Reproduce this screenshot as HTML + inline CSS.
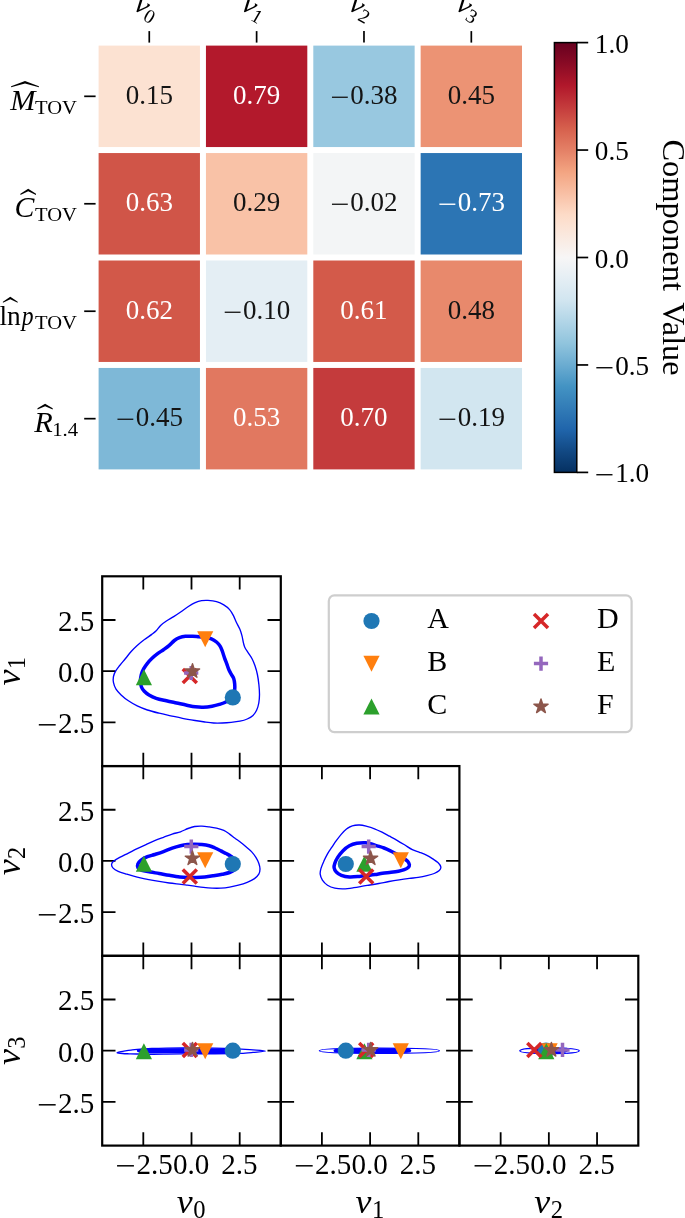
<!DOCTYPE html>
<html lang="en"><head><meta charset="utf-8"><title>Component heatmap and corner plot</title>
<style>html,body{margin:0;padding:0;background:#fff}svg{display:block}</style></head>
<body><svg width="685" height="1218" viewBox="0 0 685 1218">
<rect width="685" height="1218" fill="#fff"/>
<g style="will-change:transform">
<g id="heatmap">
<rect x="98.60" y="45.60" width="101.35" height="101.45" fill="#fce2d2"/>
<rect x="205.95" y="45.60" width="101.35" height="101.45" fill="#b3192c"/>
<rect x="313.30" y="45.60" width="101.35" height="101.45" fill="#98c8e0"/>
<rect x="420.65" y="45.60" width="101.35" height="101.45" fill="#ec9374"/>
<rect x="98.60" y="153.05" width="101.35" height="101.45" fill="#d05548"/>
<rect x="205.95" y="153.05" width="101.35" height="101.45" fill="#f9c2a7"/>
<rect x="313.30" y="153.05" width="101.35" height="101.45" fill="#f3f5f6"/>
<rect x="420.65" y="153.05" width="101.35" height="101.45" fill="#2c75b4"/>
<rect x="98.60" y="260.50" width="101.35" height="101.45" fill="#d25849"/>
<rect x="205.95" y="260.50" width="101.35" height="101.45" fill="#e4eef4"/>
<rect x="313.30" y="260.50" width="101.35" height="101.45" fill="#d35a4a"/>
<rect x="420.65" y="260.50" width="101.35" height="101.45" fill="#e8896c"/>
<rect x="98.60" y="367.95" width="101.35" height="101.45" fill="#7eb8d7"/>
<rect x="205.95" y="367.95" width="101.35" height="101.45" fill="#e17860"/>
<rect x="313.30" y="367.95" width="101.35" height="101.45" fill="#c43b3c"/>
<rect x="420.65" y="367.95" width="101.35" height="101.45" fill="#d2e6f0"/>
</g>
<g id="annot" font-family="Liberation Serif, serif">
<text x="125.65" y="103.62" font-size="27.00" fill="#141414" >0.15</text>
<text x="233.00" y="103.62" font-size="27.00" fill="#fff" >0.79</text>
<text transform="translate(330.35,105.65) scale(1.260,1)" font-size="27.00" fill="#141414" >−</text><text x="350.35" y="103.62" font-size="27.00" fill="#141414" >0.38</text>
<text x="447.70" y="103.62" font-size="27.00" fill="#141414" >0.45</text>
<text x="125.65" y="211.07" font-size="27.00" fill="#fff" >0.63</text>
<text x="233.00" y="211.07" font-size="27.00" fill="#141414" >0.29</text>
<text transform="translate(330.35,213.10) scale(1.260,1)" font-size="27.00" fill="#141414" >−</text><text x="350.35" y="211.07" font-size="27.00" fill="#141414" >0.02</text>
<text transform="translate(437.70,213.10) scale(1.260,1)" font-size="27.00" fill="#fff" >−</text><text x="457.70" y="211.07" font-size="27.00" fill="#fff" >0.73</text>
<text x="125.65" y="318.53" font-size="27.00" fill="#fff" >0.62</text>
<text transform="translate(223.00,320.55) scale(1.260,1)" font-size="27.00" fill="#141414" >−</text><text x="243.00" y="318.53" font-size="27.00" fill="#141414" >0.10</text>
<text x="340.35" y="318.53" font-size="27.00" fill="#fff" >0.61</text>
<text x="447.70" y="318.53" font-size="27.00" fill="#141414" >0.48</text>
<text transform="translate(115.65,428.00) scale(1.260,1)" font-size="27.00" fill="#141414" >−</text><text x="135.65" y="425.97" font-size="27.00" fill="#141414" >0.45</text>
<text x="233.00" y="425.97" font-size="27.00" fill="#fff" >0.53</text>
<text x="340.35" y="425.97" font-size="27.00" fill="#fff" >0.70</text>
<text transform="translate(437.70,428.00) scale(1.260,1)" font-size="27.00" fill="#141414" >−</text><text x="457.70" y="425.97" font-size="27.00" fill="#141414" >0.19</text>
</g>
<g id="hm-ticks" stroke="#000" stroke-width="1.7">
<line x1="149.27" y1="31.1" x2="149.27" y2="42.60"/>
<line x1="256.62" y1="31.1" x2="256.62" y2="42.60"/>
<line x1="363.98" y1="31.1" x2="363.98" y2="42.60"/>
<line x1="471.32" y1="31.1" x2="471.32" y2="42.60"/>
<line x1="84.2" y1="96.32" x2="95.60" y2="96.32"/>
<line x1="84.2" y1="203.77" x2="95.60" y2="203.77"/>
<line x1="84.2" y1="311.23" x2="95.60" y2="311.23"/>
<line x1="84.2" y1="418.67" x2="95.60" y2="418.67"/>
</g>
<g id="hm-xlabels" font-family="Liberation Serif, serif">
<g transform="translate(133.67,9.70) rotate(30)"><text x="-1.6" y="0" font-size="27.5" font-style="italic" textLength="13.6" lengthAdjust="spacingAndGlyphs">v</text><text x="12.2" y="4.2" font-size="19.5">0</text></g>
<g transform="translate(241.03,9.70) rotate(30)"><text x="-1.6" y="0" font-size="27.5" font-style="italic" textLength="13.6" lengthAdjust="spacingAndGlyphs">v</text><text x="12.2" y="4.2" font-size="19.5">1</text></g>
<g transform="translate(348.38,9.70) rotate(30)"><text x="-1.6" y="0" font-size="27.5" font-style="italic" textLength="13.6" lengthAdjust="spacingAndGlyphs">v</text><text x="12.2" y="4.2" font-size="19.5">2</text></g>
<g transform="translate(455.72,9.70) rotate(30)"><text x="-1.6" y="0" font-size="27.5" font-style="italic" textLength="13.6" lengthAdjust="spacingAndGlyphs">v</text><text x="12.2" y="4.2" font-size="19.5">3</text></g>
</g>
<g id="hm-ylabels" font-family="Liberation Serif, serif" fill="#000">
<text x="10.3" y="109.72" font-size="28.9" font-style="italic" textLength="25.2" lengthAdjust="spacingAndGlyphs">M</text>
<text x="35.0" y="113.62" font-size="19.8" textLength="41.9" lengthAdjust="spacingAndGlyphs">TOV</text>
<path d="M11.10,86.17 L25.00,81.07 L38.90,86.17 L38.90,87.32 L25.00,83.57 L11.10,87.32 Z" fill="#000"/>
<text x="14.5" y="217.17" font-size="28.9" font-style="italic" textLength="19.9" lengthAdjust="spacingAndGlyphs">C</text>
<text x="35.0" y="221.07" font-size="19.8" textLength="41.9" lengthAdjust="spacingAndGlyphs">TOV</text>
<path d="M20.40,193.77 L28.20,188.82 L36.00,193.77 L36.00,194.92 L28.20,191.32 L20.40,194.92 Z" fill="#000"/>
<text x="-0.5" y="324.62" font-size="27.5" textLength="21.3" lengthAdjust="spacingAndGlyphs">ln</text>
<text x="21.8" y="324.62" font-size="26.5" font-style="italic" textLength="11.8" lengthAdjust="spacingAndGlyphs">p</text>
<text x="35.0" y="328.53" font-size="19.8" textLength="41.9" lengthAdjust="spacingAndGlyphs">TOV</text>
<path d="M2.90,301.68 L10.30,296.68 L17.70,301.68 L17.70,302.83 L10.30,299.18 L2.90,302.83 Z" fill="#000"/>
<text x="34.2" y="432.07" font-size="28.9" font-style="italic" textLength="18.5" lengthAdjust="spacingAndGlyphs">R</text>
<text x="52.2" y="435.57" font-size="19.5" textLength="25.9" lengthAdjust="spacingAndGlyphs">1.4</text>
<path d="M37.50,408.32 L45.10,403.82 L52.70,408.32 L52.70,409.47 L45.10,406.32 L37.50,409.47 Z" fill="#000"/>
</g>
<defs><linearGradient id="cb" x1="0" y1="1" x2="0" y2="0">
<stop offset="0.000" stop-color="#053061"/>
<stop offset="0.050" stop-color="#124984"/>
<stop offset="0.100" stop-color="#2065ab"/>
<stop offset="0.150" stop-color="#327cb7"/>
<stop offset="0.200" stop-color="#4393c3"/>
<stop offset="0.250" stop-color="#6bacd1"/>
<stop offset="0.300" stop-color="#90c4dd"/>
<stop offset="0.350" stop-color="#b1d5e7"/>
<stop offset="0.400" stop-color="#d1e5f0"/>
<stop offset="0.450" stop-color="#e4eef4"/>
<stop offset="0.500" stop-color="#f7f6f6"/>
<stop offset="0.550" stop-color="#fae9df"/>
<stop offset="0.600" stop-color="#fddbc7"/>
<stop offset="0.650" stop-color="#f8bfa4"/>
<stop offset="0.700" stop-color="#f3a481"/>
<stop offset="0.750" stop-color="#e48066"/>
<stop offset="0.800" stop-color="#d6604d"/>
<stop offset="0.850" stop-color="#c43b3c"/>
<stop offset="0.900" stop-color="#b1182b"/>
<stop offset="0.950" stop-color="#8a0b25"/>
<stop offset="1.000" stop-color="#67001f"/>
</linearGradient></defs>
<rect x="554.40" y="42.60" width="22.40" height="429.80" fill="url(#cb)" stroke="#000" stroke-width="1.5"/>
<g stroke="#000" stroke-width="1.7">
<line x1="576.80" y1="42.60" x2="588.2" y2="42.60"/>
<line x1="576.80" y1="150.05" x2="588.2" y2="150.05"/>
<line x1="576.80" y1="257.50" x2="588.2" y2="257.50"/>
<line x1="576.80" y1="364.95" x2="588.2" y2="364.95"/>
<line x1="576.80" y1="472.40" x2="588.2" y2="472.40"/>
</g>
<g id="cb-labels" font-family="Liberation Serif, serif">
<text x="594.80" y="52.60" font-size="27.60" fill="#000" textLength="33.98" lengthAdjust="spacingAndGlyphs" >1.0</text>
<text x="594.80" y="160.05" font-size="27.60" fill="#000" textLength="33.98" lengthAdjust="spacingAndGlyphs" >0.5</text>
<text x="594.80" y="267.50" font-size="27.60" fill="#000" textLength="33.98" lengthAdjust="spacingAndGlyphs" >0.0</text>
<text transform="translate(594.80,377.02) scale(1.260,1)" font-size="27.60" fill="#000" >−</text><text x="615.24" y="374.95" font-size="27.60" fill="#000" textLength="33.98" lengthAdjust="spacingAndGlyphs" >0.5</text>
<text transform="translate(594.80,484.47) scale(1.260,1)" font-size="27.60" fill="#000" >−</text><text x="615.24" y="482.40" font-size="27.60" fill="#000" textLength="33.98" lengthAdjust="spacingAndGlyphs" >1.0</text>
</g>
<g id="cb-title" transform="translate(663.0,0) rotate(90)" font-size="32" font-family="Liberation Serif, serif"><text x="139.4" y="0" textLength="151.6" lengthAdjust="spacingAndGlyphs">Component</text><text x="302.2" y="0" textLength="73.3" lengthAdjust="spacingAndGlyphs">Value</text></g>
<g id="corner-frames" fill="none" stroke="#000">
<rect x="102.20" y="576.30" width="178.60" height="189.77" stroke-width="2.2"/>
<path d="M143.30,576.30v13.30 M143.30,766.07v-13.30 M102.20,619.98h13.30 M280.80,619.98h-13.30 M191.50,576.30v13.30 M191.50,766.07v-13.30 M102.20,671.18h13.30 M280.80,671.18h-13.30 M239.70,576.30v13.30 M239.70,766.07v-13.30 M102.20,722.38h13.30 M280.80,722.38h-13.30 " stroke-width="1.8"/>
<rect x="102.20" y="766.07" width="178.60" height="189.76" stroke-width="2.2"/>
<path d="M143.30,766.07v13.30 M143.30,955.83v-13.30 M102.20,809.75h13.30 M280.80,809.75h-13.30 M191.50,766.07v13.30 M191.50,955.83v-13.30 M102.20,860.95h13.30 M280.80,860.95h-13.30 M239.70,766.07v13.30 M239.70,955.83v-13.30 M102.20,912.15h13.30 M280.80,912.15h-13.30 " stroke-width="1.8"/>
<rect x="280.80" y="766.07" width="178.60" height="189.76" stroke-width="2.2"/>
<path d="M321.90,766.07v13.30 M321.90,955.83v-13.30 M280.80,809.75h13.30 M459.40,809.75h-13.30 M370.10,766.07v13.30 M370.10,955.83v-13.30 M280.80,860.95h13.30 M459.40,860.95h-13.30 M418.30,766.07v13.30 M418.30,955.83v-13.30 M280.80,912.15h13.30 M459.40,912.15h-13.30 " stroke-width="1.8"/>
<rect x="102.20" y="955.83" width="178.60" height="189.77" stroke-width="2.2"/>
<path d="M143.30,955.83v13.30 M143.30,1145.60v-13.30 M102.20,999.51h13.30 M280.80,999.51h-13.30 M191.50,955.83v13.30 M191.50,1145.60v-13.30 M102.20,1050.71h13.30 M280.80,1050.71h-13.30 M239.70,955.83v13.30 M239.70,1145.60v-13.30 M102.20,1101.91h13.30 M280.80,1101.91h-13.30 " stroke-width="1.8"/>
<rect x="280.80" y="955.83" width="178.60" height="189.77" stroke-width="2.2"/>
<path d="M321.90,955.83v13.30 M321.90,1145.60v-13.30 M280.80,999.51h13.30 M459.40,999.51h-13.30 M370.10,955.83v13.30 M370.10,1145.60v-13.30 M280.80,1050.71h13.30 M459.40,1050.71h-13.30 M418.30,955.83v13.30 M418.30,1145.60v-13.30 M280.80,1101.91h13.30 M459.40,1101.91h-13.30 " stroke-width="1.8"/>
<rect x="459.40" y="955.83" width="178.90" height="189.77" stroke-width="2.2"/>
<path d="M500.65,955.83v13.30 M500.65,1145.60v-13.30 M459.40,999.51h13.30 M638.30,999.51h-13.30 M548.85,955.83v13.30 M548.85,1145.60v-13.30 M459.40,1050.71h13.30 M638.30,1050.71h-13.30 M597.05,955.83v13.30 M597.05,1145.60v-13.30 M459.40,1101.91h13.30 M638.30,1101.91h-13.30 " stroke-width="1.8"/>
</g>
<g id="corner-ticklabels" font-family="Liberation Serif, serif">
<text x="58.08" y="630.88" font-size="30.20" fill="#000" textLength="36.32" lengthAdjust="spacingAndGlyphs" >2.5</text>
<text x="58.08" y="682.08" font-size="30.20" fill="#000" textLength="36.32" lengthAdjust="spacingAndGlyphs" >0.0</text>
<text transform="translate(36.74,735.04) scale(1.200,1)" font-size="30.20" fill="#000" >−</text><text x="58.08" y="733.28" font-size="30.20" fill="#000" textLength="36.32" lengthAdjust="spacingAndGlyphs" >2.5</text>
<text x="58.08" y="820.65" font-size="30.20" fill="#000" textLength="36.32" lengthAdjust="spacingAndGlyphs" >2.5</text>
<text x="58.08" y="871.85" font-size="30.20" fill="#000" textLength="36.32" lengthAdjust="spacingAndGlyphs" >0.0</text>
<text transform="translate(36.74,924.80) scale(1.200,1)" font-size="30.20" fill="#000" >−</text><text x="58.08" y="923.05" font-size="30.20" fill="#000" textLength="36.32" lengthAdjust="spacingAndGlyphs" >2.5</text>
<text x="58.08" y="1010.41" font-size="30.20" fill="#000" textLength="36.32" lengthAdjust="spacingAndGlyphs" >2.5</text>
<text x="58.08" y="1061.62" font-size="30.20" fill="#000" textLength="36.32" lengthAdjust="spacingAndGlyphs" >0.0</text>
<text transform="translate(36.74,1114.57) scale(1.200,1)" font-size="30.20" fill="#000" >−</text><text x="58.08" y="1112.82" font-size="30.20" fill="#000" textLength="36.32" lengthAdjust="spacingAndGlyphs" >2.5</text>
<text transform="translate(115.07,1175.75) scale(1.200,1)" font-size="30.20" fill="#000" >−</text><text x="136.41" y="1174.00" font-size="30.20" fill="#000" textLength="36.32" lengthAdjust="spacingAndGlyphs" >2.5</text>
<text x="172.94" y="1174.00" font-size="30.20" fill="#000" textLength="36.32" lengthAdjust="spacingAndGlyphs" >0.0</text>
<text x="221.14" y="1174.00" font-size="30.20" fill="#000" textLength="36.32" lengthAdjust="spacingAndGlyphs" >2.5</text>
<text transform="translate(293.67,1175.75) scale(1.200,1)" font-size="30.20" fill="#000" >−</text><text x="315.01" y="1174.00" font-size="30.20" fill="#000" textLength="36.32" lengthAdjust="spacingAndGlyphs" >2.5</text>
<text x="351.54" y="1174.00" font-size="30.20" fill="#000" textLength="36.32" lengthAdjust="spacingAndGlyphs" >0.0</text>
<text x="399.74" y="1174.00" font-size="30.20" fill="#000" textLength="36.32" lengthAdjust="spacingAndGlyphs" >2.5</text>
<text transform="translate(472.42,1175.75) scale(1.200,1)" font-size="30.20" fill="#000" >−</text><text x="493.76" y="1174.00" font-size="30.20" fill="#000" textLength="36.32" lengthAdjust="spacingAndGlyphs" >2.5</text>
<text x="530.29" y="1174.00" font-size="30.20" fill="#000" textLength="36.32" lengthAdjust="spacingAndGlyphs" >0.0</text>
<text x="578.49" y="1174.00" font-size="30.20" fill="#000" textLength="36.32" lengthAdjust="spacingAndGlyphs" >2.5</text>
</g>
<g id="corner-axlabels" font-family="Liberation Serif, serif">
<text x="176.80" y="1212.5" font-size="34" font-style="italic" textLength="15.9" lengthAdjust="spacingAndGlyphs">v</text>
<text x="193.30" y="1217.8" font-size="24.6">0</text>
<text x="355.40" y="1212.5" font-size="34" font-style="italic" textLength="15.9" lengthAdjust="spacingAndGlyphs">v</text>
<text x="371.90" y="1217.8" font-size="24.6">1</text>
<text x="534.15" y="1212.5" font-size="34" font-style="italic" textLength="15.9" lengthAdjust="spacingAndGlyphs">v</text>
<text x="550.65" y="1217.8" font-size="24.6">2</text>
<g transform="translate(20.4,685.18) rotate(-90)"><text x="-0.4" y="0" font-size="34" font-style="italic" textLength="15.9" lengthAdjust="spacingAndGlyphs">v</text><text x="15.9" y="4.9" font-size="24.4">1</text></g>
<g transform="translate(20.4,874.95) rotate(-90)"><text x="-0.4" y="0" font-size="34" font-style="italic" textLength="15.9" lengthAdjust="spacingAndGlyphs">v</text><text x="15.9" y="4.9" font-size="24.4">2</text></g>
<g transform="translate(20.4,1064.71) rotate(-90)"><text x="-0.4" y="0" font-size="34" font-style="italic" textLength="15.9" lengthAdjust="spacingAndGlyphs">v</text><text x="15.9" y="4.9" font-size="24.4">3</text></g>
</g>
<g id="contours" fill="none" stroke="#0000ff" stroke-linejoin="round">
<path d="M208.00,600.40 C210.48,600.55 213.87,600.85 216.50,601.60 C219.13,602.35 221.62,603.57 223.80,604.90 C225.98,606.23 228.02,607.85 229.60,609.60 C231.18,611.35 232.20,613.33 233.30,615.40 C234.40,617.47 235.10,619.68 236.20,622.00 C237.30,624.32 238.93,626.98 239.90,629.30 C240.87,631.62 241.40,633.58 242.00,635.90 C242.60,638.22 243.00,641.22 243.50,643.20 C244.00,645.18 244.15,646.10 245.00,647.80 C245.85,649.50 247.38,651.50 248.60,653.40 C249.82,655.30 251.23,657.13 252.30,659.20 C253.37,661.27 254.15,663.25 255.00,665.80 C255.85,668.35 256.75,671.35 257.40,674.50 C258.05,677.65 258.55,681.37 258.90,684.70 C259.25,688.03 259.52,691.45 259.50,694.50 C259.48,697.55 259.28,700.37 258.80,703.00 C258.32,705.63 257.57,708.23 256.60,710.30 C255.63,712.37 254.57,713.95 253.00,715.40 C251.43,716.85 249.38,718.03 247.20,719.00 C245.02,719.97 242.58,720.63 239.90,721.20 C237.22,721.77 234.03,722.10 231.10,722.40 C228.17,722.70 225.22,722.90 222.30,723.00 C219.38,723.10 216.52,723.17 213.60,723.00 C210.68,722.83 207.90,722.42 204.80,722.00 C201.70,721.58 198.72,721.12 195.00,720.50 C191.28,719.88 186.53,719.08 182.50,718.30 C178.47,717.52 174.70,716.65 170.80,715.80 C166.90,714.95 163.00,714.17 159.10,713.20 C155.20,712.23 151.05,711.22 147.40,710.00 C143.75,708.78 140.37,707.43 137.20,705.90 C134.03,704.37 131.08,702.63 128.40,700.80 C125.72,698.97 123.17,696.85 121.10,694.90 C119.03,692.95 117.27,691.15 116.00,689.10 C114.73,687.05 113.93,684.65 113.50,682.60 C113.07,680.55 113.05,678.70 113.40,676.80 C113.75,674.90 114.55,673.08 115.60,671.20 C116.65,669.32 118.05,667.62 119.70,665.50 C121.35,663.38 123.55,660.88 125.50,658.50 C127.45,656.12 129.45,653.38 131.40,651.20 C133.35,649.02 135.02,647.35 137.20,645.40 C139.38,643.45 142.07,641.33 144.50,639.50 C146.93,637.67 149.85,635.85 151.80,634.40 C153.75,632.95 154.73,632.30 156.20,630.80 C157.67,629.30 158.90,627.03 160.60,625.40 C162.30,623.77 164.22,622.47 166.40,621.00 C168.58,619.53 171.27,618.15 173.70,616.60 C176.13,615.05 178.62,613.33 181.00,611.70 C183.38,610.07 185.63,608.30 188.00,606.80 C190.37,605.30 192.93,603.72 195.20,602.70 C197.47,601.68 199.47,601.08 201.60,600.70 C203.73,600.32 205.52,600.25 208.00,600.40Z" stroke-width="1.35"/>
<path d="M201.90,826.10 C204.33,826.17 206.77,826.55 209.20,826.90 C211.63,827.25 214.07,827.62 216.50,828.20 C218.93,828.78 221.62,829.42 223.80,830.40 C225.98,831.38 227.78,832.83 229.60,834.10 C231.42,835.37 232.98,836.72 234.70,838.00 C236.42,839.28 238.07,840.38 239.90,841.80 C241.73,843.22 243.77,844.87 245.70,846.50 C247.63,848.13 249.80,849.78 251.50,851.60 C253.20,853.42 254.68,855.45 255.90,857.40 C257.12,859.35 258.12,861.35 258.80,863.30 C259.48,865.25 260.00,867.28 260.00,869.10 C260.00,870.92 259.72,872.62 258.80,874.20 C257.88,875.78 256.43,877.25 254.50,878.60 C252.57,879.95 249.88,881.20 247.20,882.30 C244.52,883.40 241.33,884.40 238.40,885.20 C235.47,886.00 232.52,886.62 229.60,887.10 C226.68,887.58 223.82,887.93 220.90,888.10 C217.98,888.27 215.02,888.22 212.10,888.10 C209.18,887.98 206.32,887.72 203.40,887.40 C200.48,887.08 197.28,886.57 194.60,886.20 C191.92,885.83 189.57,885.52 187.30,885.20 C185.03,884.88 184.00,884.67 181.00,884.30 C178.00,883.93 173.20,883.52 169.30,883.00 C165.40,882.48 161.25,881.82 157.60,881.20 C153.95,880.58 150.80,879.97 147.40,879.30 C144.00,878.63 140.60,878.05 137.20,877.20 C133.80,876.35 130.17,875.18 127.00,874.20 C123.83,873.22 120.52,872.32 118.20,871.30 C115.88,870.28 114.20,869.27 113.10,868.10 C112.00,866.93 111.48,865.47 111.60,864.30 C111.72,863.13 112.45,862.25 113.80,861.10 C115.15,859.95 117.27,858.73 119.70,857.40 C122.13,856.07 125.48,854.55 128.40,853.10 C131.32,851.65 134.27,850.12 137.20,848.70 C140.13,847.28 143.08,845.93 146.00,844.60 C148.92,843.27 151.78,841.92 154.70,840.70 C157.62,839.48 160.58,838.40 163.50,837.30 C166.42,836.20 169.37,835.02 172.20,834.10 C175.03,833.18 177.87,832.73 180.50,831.80 C183.13,830.87 185.65,829.38 188.00,828.50 C190.35,827.62 192.28,826.90 194.60,826.50 C196.92,826.10 199.47,826.03 201.90,826.10Z" stroke-width="1.35"/>
<path d="M359.60,825.00 C362.03,825.10 364.42,825.77 366.90,826.40 C369.38,827.03 371.98,827.83 374.50,828.80 C377.02,829.77 379.50,830.97 382.00,832.20 C384.50,833.43 387.00,834.85 389.50,836.20 C392.00,837.55 394.50,838.87 397.00,840.30 C399.50,841.73 401.95,843.23 404.50,844.80 C407.05,846.37 409.78,848.45 412.30,849.70 C414.82,850.95 417.17,851.37 419.60,852.30 C422.03,853.23 424.70,854.20 426.90,855.30 C429.10,856.40 430.97,857.68 432.80,858.90 C434.63,860.12 436.57,861.27 437.90,862.60 C439.23,863.93 440.57,865.57 440.80,866.90 C441.03,868.23 440.40,869.50 439.30,870.60 C438.20,871.70 436.27,872.65 434.20,873.50 C432.13,874.35 429.57,875.05 426.90,875.70 C424.23,876.35 421.12,876.95 418.20,877.40 C415.28,877.85 412.57,878.00 409.40,878.40 C406.23,878.80 402.60,879.28 399.20,879.80 C395.80,880.32 392.40,880.88 389.00,881.50 C385.60,882.12 381.97,882.92 378.80,883.50 C375.63,884.08 372.47,884.60 370.00,885.00 C367.53,885.40 366.70,885.45 364.00,885.90 C361.30,886.35 357.20,887.22 353.80,887.70 C350.40,888.18 346.77,888.73 343.60,888.80 C340.43,888.87 337.48,888.70 334.80,888.10 C332.12,887.50 329.57,886.53 327.50,885.20 C325.43,883.87 323.62,881.93 322.40,880.10 C321.18,878.27 320.43,876.15 320.20,874.20 C319.97,872.25 320.38,870.58 321.00,868.40 C321.62,866.22 322.82,863.53 323.90,861.10 C324.98,858.67 326.17,856.12 327.50,853.80 C328.83,851.48 330.43,849.38 331.90,847.20 C333.37,845.02 334.72,842.88 336.30,840.70 C337.88,838.52 339.70,836.05 341.40,834.10 C343.10,832.15 344.68,830.38 346.50,829.00 C348.32,827.62 350.12,826.47 352.30,825.80 C354.48,825.13 357.17,824.90 359.60,825.00Z" stroke-width="1.35"/>
<path d="M117.20,1052.70 C116.95,1052.40 119.62,1052.00 121.00,1051.70 C122.38,1051.40 123.83,1051.17 125.50,1050.90 C127.17,1050.63 129.05,1050.35 131.00,1050.10 C132.95,1049.85 133.73,1049.67 137.20,1049.40 C140.67,1049.13 146.93,1048.72 151.80,1048.50 C156.67,1048.28 159.87,1048.18 166.40,1048.10 C172.93,1048.02 182.90,1047.98 191.00,1048.00 C199.10,1048.02 208.17,1048.10 215.00,1048.20 C221.83,1048.30 227.62,1048.43 232.00,1048.60 C236.38,1048.77 237.80,1048.98 241.30,1049.20 C244.80,1049.42 248.98,1049.58 253.00,1049.90 C257.02,1050.22 265.40,1050.68 265.40,1051.10 C265.40,1051.52 257.02,1052.02 253.00,1052.40 C248.98,1052.78 244.80,1053.20 241.30,1053.40 C237.80,1053.60 236.38,1053.55 232.00,1053.60 C227.62,1053.65 221.83,1053.67 215.00,1053.70 C208.17,1053.73 199.10,1053.73 191.00,1053.80 C182.90,1053.87 172.93,1054.03 166.40,1054.10 C159.87,1054.17 156.67,1054.22 151.80,1054.20 C146.93,1054.18 141.00,1054.07 137.20,1054.00 C133.40,1053.93 131.45,1053.88 129.00,1053.80 C126.55,1053.72 124.47,1053.68 122.50,1053.50 C120.53,1053.32 117.45,1053.00 117.20,1052.70Z" stroke-width="1.35"/>
<path d="M319.30,1050.70 C319.30,1049.09 342.14,1048.10 379.40,1048.10 C416.66,1048.10 439.50,1049.09 439.50,1050.70 C439.50,1052.31 416.66,1053.30 379.40,1053.30 C342.14,1053.30 319.30,1052.31 319.30,1050.70Z" stroke-width="1.35"/>
<path d="M519.80,1050.80 C519.80,1049.06 531.10,1048.00 549.55,1048.00 C568.00,1048.00 579.30,1049.06 579.30,1050.80 C579.30,1052.54 568.00,1053.60 549.55,1053.60 C531.10,1053.60 519.80,1052.54 519.80,1050.80Z" stroke-width="1.35"/>
<path d="M199.00,636.80 C201.05,636.95 202.93,636.87 205.00,637.20 C207.07,637.53 209.48,638.00 211.40,638.80 C213.32,639.60 215.05,640.78 216.50,642.00 C217.95,643.22 219.13,644.57 220.10,646.10 C221.07,647.63 221.57,649.25 222.30,651.20 C223.03,653.15 223.73,655.63 224.50,657.80 C225.27,659.97 226.15,662.17 226.90,664.20 C227.65,666.23 228.23,668.27 229.00,670.00 C229.77,671.73 230.72,673.18 231.50,674.60 C232.28,676.02 233.17,676.93 233.70,678.50 C234.23,680.07 234.53,682.12 234.70,684.00 C234.87,685.88 234.85,688.10 234.70,689.80 C234.55,691.50 234.37,692.78 233.80,694.20 C233.23,695.62 232.72,696.97 231.30,698.30 C229.88,699.63 227.28,701.18 225.30,702.20 C223.32,703.22 221.60,703.73 219.40,704.40 C217.20,705.07 214.80,705.73 212.10,706.20 C209.40,706.67 206.00,707.10 203.20,707.20 C200.40,707.30 198.03,707.13 195.30,706.80 C192.57,706.47 189.92,705.83 186.80,705.20 C183.68,704.57 180.00,703.73 176.60,703.00 C173.20,702.27 169.80,701.58 166.40,700.80 C163.00,700.02 159.10,699.27 156.20,698.30 C153.30,697.33 150.98,696.17 149.00,695.00 C147.02,693.83 145.57,692.65 144.30,691.30 C143.03,689.95 142.05,688.60 141.40,686.90 C140.75,685.20 140.42,683.15 140.40,681.10 C140.38,679.05 140.77,676.63 141.30,674.60 C141.83,672.57 142.58,670.78 143.60,668.90 C144.62,667.02 146.03,665.03 147.40,663.30 C148.77,661.57 150.10,660.10 151.80,658.50 C153.50,656.90 155.65,655.17 157.60,653.70 C159.55,652.23 161.55,651.08 163.50,649.70 C165.45,648.32 167.48,646.93 169.30,645.40 C171.12,643.87 172.70,641.80 174.40,640.50 C176.10,639.20 177.67,638.30 179.50,637.60 C181.33,636.90 183.20,636.52 185.40,636.30 C187.60,636.08 190.43,636.22 192.70,636.30 C194.97,636.38 196.95,636.65 199.00,636.80Z" stroke-width="3.5"/>
<path d="M194.60,844.30 C197.03,844.30 199.47,844.35 201.90,844.60 C204.33,844.85 207.02,845.23 209.20,845.80 C211.38,846.37 213.05,847.15 215.00,848.00 C216.95,848.85 218.95,849.93 220.90,850.90 C222.85,851.87 225.00,852.88 226.70,853.80 C228.40,854.72 229.72,855.40 231.10,856.40 C232.48,857.40 233.97,858.45 235.00,859.80 C236.03,861.15 237.33,862.87 237.30,864.50 C237.27,866.13 236.08,868.27 234.80,869.60 C233.52,870.93 231.68,871.73 229.60,872.50 C227.52,873.27 224.97,873.67 222.30,874.20 C219.63,874.73 216.52,875.25 213.60,875.70 C210.68,876.15 207.72,876.62 204.80,876.90 C201.88,877.18 199.02,877.32 196.10,877.40 C193.18,877.48 190.03,877.48 187.30,877.40 C184.57,877.32 182.70,877.25 179.70,876.90 C176.70,876.55 172.73,875.87 169.30,875.30 C165.87,874.73 162.27,874.05 159.10,873.50 C155.93,872.95 153.22,872.53 150.30,872.00 C147.38,871.47 143.67,871.02 141.60,870.30 C139.53,869.58 138.52,868.75 137.90,867.70 C137.28,866.65 137.42,865.22 137.90,864.00 C138.38,862.78 139.22,861.62 140.80,860.40 C142.38,859.18 145.08,857.68 147.40,856.70 C149.72,855.72 152.02,855.35 154.70,854.50 C157.38,853.65 160.58,852.65 163.50,851.60 C166.42,850.55 169.37,849.17 172.20,848.20 C175.03,847.23 177.98,846.40 180.50,845.80 C183.02,845.20 184.95,844.85 187.30,844.60 C189.65,844.35 192.17,844.30 194.60,844.30Z" stroke-width="3.5"/>
<path d="M365.50,842.80 C367.80,842.88 368.58,843.30 370.50,843.80 C372.42,844.30 374.75,845.10 377.00,845.80 C379.25,846.50 381.77,847.17 384.00,848.00 C386.23,848.83 388.65,849.97 390.40,850.80 C392.15,851.63 392.90,852.13 394.50,853.00 C396.10,853.87 398.33,855.03 400.00,856.00 C401.67,856.97 403.25,857.93 404.50,858.80 C405.75,859.67 406.68,860.22 407.50,861.20 C408.32,862.18 409.28,863.65 409.40,864.70 C409.52,865.75 409.05,866.67 408.20,867.50 C407.35,868.33 405.92,869.08 404.30,869.70 C402.68,870.32 400.72,870.77 398.50,871.20 C396.28,871.63 393.67,871.97 391.00,872.30 C388.33,872.63 385.17,872.82 382.50,873.20 C379.83,873.58 377.58,874.20 375.00,874.60 C372.42,875.00 369.57,875.30 367.00,875.60 C364.43,875.90 362.53,876.18 359.60,876.40 C356.67,876.62 352.43,877.08 349.40,876.90 C346.37,876.72 343.58,876.12 341.40,875.30 C339.22,874.48 337.52,873.27 336.30,872.00 C335.08,870.73 334.35,869.15 334.10,867.70 C333.85,866.25 334.20,865.02 334.80,863.30 C335.40,861.58 336.37,859.47 337.70,857.40 C339.03,855.33 340.85,852.83 342.80,850.90 C344.75,848.97 347.08,847.07 349.40,845.80 C351.72,844.53 354.02,843.80 356.70,843.30 C359.38,842.80 363.20,842.72 365.50,842.80Z" stroke-width="3.5"/>
<path d="M138.50,1050.80 C138.50,1050.30 157.22,1050.00 187.75,1050.00 C218.28,1050.00 237.00,1050.30 237.00,1050.80 C237.00,1051.30 218.28,1051.60 187.75,1051.60 C157.22,1051.60 138.50,1051.30 138.50,1050.80Z" stroke-width="3.5"/>
<path d="M335.30,1050.70 C335.30,1050.20 349.40,1049.90 372.40,1049.90 C395.40,1049.90 409.50,1050.20 409.50,1050.70 C409.50,1051.20 395.40,1051.50 372.40,1051.50 C349.40,1051.50 335.30,1051.20 335.30,1050.70Z" stroke-width="3.5"/>
<path d="M534.00,1050.80 C534.00,1050.30 540.08,1050.00 550.00,1050.00 C559.92,1050.00 566.00,1050.30 566.00,1050.80 C566.00,1051.30 559.92,1051.60 550.00,1051.60 C540.08,1051.60 534.00,1051.30 534.00,1050.80Z" stroke-width="3.5"/>
</g>
<g id="markers">
<circle cx="232.80" cy="697.40" r="8.1" fill="#1f77b4"/>
<path d="M197.10,631.20h16.2l-8.1,16Z" fill="#ff7f0e"/>
<path d="M135.80,685.20h16.2l-8.1,-16Z" fill="#2ca02c"/>
<path d="M182.80,668.90L196.80,682.90M182.80,682.90L196.80,668.90" stroke="#d62728" stroke-width="3.5" fill="none"/>
<path d="M184.10,673.00h14.20M191.20,665.90v14.20" stroke="#9467bd" stroke-width="3.5" fill="none"/>
<polygon points="192.50,663.70 194.18,668.88 199.63,668.88 195.22,672.09 196.91,677.27 192.50,674.06 188.09,677.27 189.78,672.09 185.37,668.88 190.82,668.88" fill="#8c564b" stroke="#8c564b" stroke-width="1.4" stroke-linejoin="round"/>
<circle cx="232.80" cy="864.00" r="8.1" fill="#1f77b4"/>
<path d="M197.10,852.20h16.2l-8.1,16Z" fill="#ff7f0e"/>
<path d="M135.80,871.70h16.2l-8.1,-16Z" fill="#2ca02c"/>
<path d="M182.80,869.40L196.80,883.40M182.80,883.40L196.80,869.40" stroke="#d62728" stroke-width="3.5" fill="none"/>
<path d="M184.20,846.60h14.20M191.30,839.50v14.20" stroke="#9467bd" stroke-width="3.5" fill="none"/>
<polygon points="192.40,850.90 194.08,856.08 199.53,856.08 195.12,859.29 196.81,864.47 192.40,861.26 187.99,864.47 189.68,859.29 185.27,856.08 190.72,856.08" fill="#8c564b" stroke="#8c564b" stroke-width="1.4" stroke-linejoin="round"/>
<circle cx="345.80" cy="864.00" r="8.1" fill="#1f77b4"/>
<path d="M392.70,852.20h16.2l-8.1,16Z" fill="#ff7f0e"/>
<path d="M356.30,871.70h16.2l-8.1,-16Z" fill="#2ca02c"/>
<path d="M359.20,869.40L373.20,883.40M359.20,883.40L373.20,869.40" stroke="#d62728" stroke-width="3.5" fill="none"/>
<path d="M361.60,846.60h14.20M368.70,839.50v14.20" stroke="#9467bd" stroke-width="3.5" fill="none"/>
<polygon points="370.60,850.90 372.28,856.08 377.73,856.08 373.32,859.29 375.01,864.47 370.60,861.26 366.19,864.47 367.88,859.29 363.47,856.08 368.92,856.08" fill="#8c564b" stroke="#8c564b" stroke-width="1.4" stroke-linejoin="round"/>
<circle cx="232.80" cy="1050.70" r="8.1" fill="#1f77b4"/>
<path d="M197.10,1043.20h16.2l-8.1,16Z" fill="#ff7f0e"/>
<path d="M135.80,1059.20h16.2l-8.1,-16Z" fill="#2ca02c"/>
<path d="M182.80,1043.10L196.80,1057.10M182.80,1057.10L196.80,1043.10" stroke="#d62728" stroke-width="3.5" fill="none"/>
<path d="M184.10,1049.90h14.20M191.20,1042.80v14.20" stroke="#9467bd" stroke-width="3.5" fill="none"/>
<polygon points="192.50,1042.50 194.18,1047.68 199.63,1047.68 195.22,1050.89 196.91,1056.07 192.50,1052.86 188.09,1056.07 189.78,1050.89 185.37,1047.68 190.82,1047.68" fill="#8c564b" stroke="#8c564b" stroke-width="1.4" stroke-linejoin="round"/>
<circle cx="345.80" cy="1050.70" r="8.1" fill="#1f77b4"/>
<path d="M392.70,1043.20h16.2l-8.1,16Z" fill="#ff7f0e"/>
<path d="M356.30,1059.20h16.2l-8.1,-16Z" fill="#2ca02c"/>
<path d="M359.20,1043.10L373.20,1057.10M359.20,1057.10L373.20,1043.10" stroke="#d62728" stroke-width="3.5" fill="none"/>
<path d="M361.60,1049.90h14.20M368.70,1042.80v14.20" stroke="#9467bd" stroke-width="3.5" fill="none"/>
<polygon points="370.60,1042.50 372.28,1047.68 377.73,1047.68 373.32,1050.89 375.01,1056.07 370.60,1052.86 366.19,1056.07 367.88,1050.89 363.47,1047.68 368.92,1047.68" fill="#8c564b" stroke="#8c564b" stroke-width="1.4" stroke-linejoin="round"/>
<circle cx="546.00" cy="1050.70" r="8.1" fill="#1f77b4"/>
<path d="M541.50,1043.20h16.2l-8.1,16Z" fill="#ff7f0e"/>
<path d="M538.20,1059.20h16.2l-8.1,-16Z" fill="#2ca02c"/>
<path d="M527.30,1043.10L541.30,1057.10M527.30,1057.10L541.30,1043.10" stroke="#d62728" stroke-width="3.5" fill="none"/>
<path d="M555.40,1049.90h14.20M562.50,1042.80v14.20" stroke="#9467bd" stroke-width="3.5" fill="none"/>
<polygon points="551.40,1042.50 553.08,1047.68 558.53,1047.68 554.12,1050.89 555.81,1056.07 551.40,1052.86 546.99,1056.07 548.68,1050.89 544.27,1047.68 549.72,1047.68" fill="#8c564b" stroke="#8c564b" stroke-width="1.4" stroke-linejoin="round"/>
</g>
<rect x="328.8" y="595.3" width="302.8" height="136.9" rx="5.6" ry="5.6" fill="#fff" stroke="#cecece" stroke-width="2.2"/>
<circle cx="371.50" cy="621.00" r="8.1" fill="#1f77b4"/>
<path d="M363.40,655.80h16.2l-8.1,16Z" fill="#ff7f0e"/>
<path d="M363.40,714.40h16.2l-8.1,-16Z" fill="#2ca02c"/>
<path d="M534.00,614.00L548.00,628.00M534.00,628.00L548.00,614.00" stroke="#d62728" stroke-width="3.5" fill="none"/>
<path d="M533.90,663.60h14.20M541.00,656.50v14.20" stroke="#9467bd" stroke-width="3.5" fill="none"/>
<polygon points="541.00,699.00 542.68,704.18 548.13,704.18 543.72,707.39 545.41,712.57 541.00,709.36 536.59,712.57 538.28,707.39 533.87,704.18 539.32,704.18" fill="#8c564b" stroke="#8c564b" stroke-width="1.4" stroke-linejoin="round"/>
<g id="legend-labels" font-family="Liberation Serif, serif" font-size="30">
<text x="427.3" y="627.90">A</text>
<text x="597.0" y="627.90">D</text>
<text x="427.3" y="670.90">B</text>
<text x="597.0" y="670.90">E</text>
<text x="427.3" y="713.70">C</text>
<text x="597.0" y="713.70">F</text>
</g>
</g>
</svg></body></html>
